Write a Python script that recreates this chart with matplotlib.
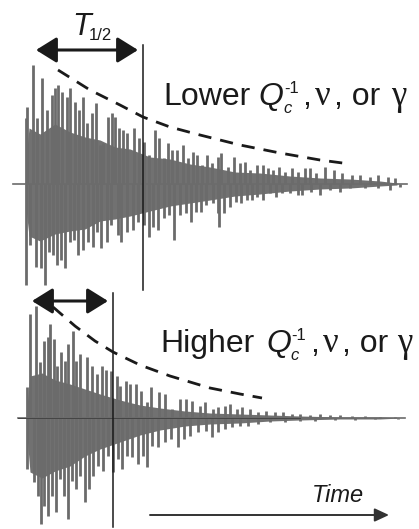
import matplotlib
matplotlib.use("Agg")
import matplotlib.pyplot as plt

plt.rcParams['lines.scale_dashes'] = False

# upper trace ("Lower Qc^-1"), time in px, amplitude in px above/below zero
top_up_t = [13, 24, 26, 27, 33, 37, 42, 47, 52, 55, 58, 62, 67, 70, 75, 79, 83, 87, 92, 96, 100,
            103, 108, 112, 115, 119, 123, 127, 134, 139, 144, 149, 155, 159, 164, 168, 172, 177,
            183, 188, 193, 197, 202, 207, 212, 218, 221, 228, 234, 240, 245, 250, 257, 263, 268,
            273, 279, 285, 292, 298, 305, 310, 316, 325, 334, 342, 352, 360, 370, 378, 388, 395, 407]
top_up_a = [0, 0, 66, 77, 119, 66, 106, 74, 89, 96, 99, 92, 87, 96, 82, 74, 87, 61, 71, 81, 39,
            41, 67, 71, 67, 56, 54, 51, 56, 46, 42, 29, 54, 46, 26, 41, 34, 34,
            39, 26, 32, 29, 19, 29, 21, 27, 31, 17, 27, 21, 22, 14, 19, 19, 16,
            14, 17, 12, 16, 12, 16, 16, 11, 17, 14, 11, 9, 9, 7, 9, 7, 6, 0]
top_dn_t = [26, 30, 36, 41, 45, 49, 53, 57, 61, 65, 70, 74, 78, 83, 88, 93, 97, 101, 107, 111,
            118, 121, 127, 133, 138, 144, 149, 153, 158, 164, 169, 174, 180, 186, 191, 196, 201,
            206, 213, 218, 219, 224, 230, 236, 241, 247, 252, 257, 263, 270, 276, 282, 290, 298,
            302, 311, 320, 330, 340, 350, 365, 378, 390, 400]
top_dn_a = [101, 61, 83, 84, 101, 68, 71, 81, 76, 84, 58, 56, 71, 66, 58, 63, 48, 64, 58, 41,
            51, 58, 48, 46, 38, 41, 53, 43, 46, 34, 31, 56, 31, 29, 38, 28, 28,
            21, 19, 29, 43, 29, 23, 18, 19, 16, 16, 13, 16, 9, 13, 9, 9, 11,
            11, 8, 11, 6, 8, 4, 4, 4, 6, 3]
top_core_t = [26, 29, 40, 55, 70, 85, 100, 115, 130, 150, 170, 190, 210, 235, 260, 290, 320, 350, 380, 397]
top_core_up = [25, 56, 50, 60, 52, 47, 44, 37, 35, 27, 25, 20, 17, 12, 11, 8, 6, 5, 3, 1]
top_core_dn = [25, 52, 57, 50, 47, 45, 37, 35, 32, 27, 22, 19, 16, 12, 10, 7, 5, 4, 2, 1]
top_env_t = [58, 90, 120, 143, 170, 200, 240, 280, 320, 350]
top_env_a = [114, 94, 79, 67, 57, 49, 39, 31, 24, 20]

# lower trace ("Higher Qc^-1")
bot_up_t = [18, 25, 27, 30, 36, 40, 44, 48, 50, 54, 57, 61, 65, 68, 73, 76, 80, 87, 92, 97,
            102, 106, 111, 117, 120, 126, 130, 136, 141, 147, 151, 159, 165, 172, 180, 186, 192,
            200, 205, 213, 218, 225, 230, 237, 242, 250, 258, 266, 275, 283, 292, 300, 310, 320,
            330, 340, 352, 365, 380, 395, 405]
bot_up_a = [0, 0, 31, 104, 112, 56, 77, 81, 94, 79, 52, 66, 57, 74, 87, 57, 64, 61, 52, 44,
            52, 48, 47, 42, 32, 37, 34, 34, 27, 16, 31, 26, 24, 9, 19, 19, 17,
            12, 16, 9, 11, 12, 14, 9, 11, 9, 6, 7, 6, 6, 4, 4, 3, 4,
            3, 3, 2, 2, 1, 1, 0]
bot_dn_t = [27, 34, 38, 41, 44, 48, 52, 56, 60, 64, 68, 72, 76, 80, 85, 89, 93, 98, 103, 108,
            113, 118, 122, 127, 132, 138, 143, 147, 152, 158, 165, 171, 178, 184, 190, 198, 206,
            212, 218, 225, 232, 240, 248, 258, 270, 285, 300, 315, 335, 355, 375, 398]
bot_dn_a = [51, 64, 78, 106, 88, 98, 78, 94, 61, 78, 101, 63, 71, 58, 84, 71, 58, 48, 53, 38,
            54, 41, 51, 38, 39, 46, 38, 49, 28, 29, 24, 21, 29, 21, 18, 14, 13,
            19, 14, 11, 9, 8, 8, 6, 4, 4, 3, 3, 2, 2, 1, 1]
bot_core_t = [27, 30, 42, 55, 70, 85, 100, 120, 140, 160, 185, 210, 240, 270, 300, 340, 380, 400]
bot_core_up = [12, 42, 45, 38, 34, 29, 24, 18, 13, 10, 7, 5, 4, 3, 2, 1, 1, 0]
bot_core_dn = [18, 54, 60, 53, 48, 38, 31, 24, 17, 12, 8, 6, 5, 3, 2, 1, 1, 0]
bot_env_t = [53, 75, 95, 113, 140, 170, 210, 240, 262]
bot_env_a = [111, 92, 77, 66, 53, 42, 30, 24, 20]

wave_col = '#6b6b6b'
ink = '#1a1a1a'

fig = plt.figure(figsize=(4.19, 5.29), dpi=100)
ax = fig.add_axes([0, 0, 1, 1])
ax.set_xlim(0, 419)
ax.set_ylim(529, 0)
ax.axis('off')


def trace(base, up_t, up_a, dn_t, dn_a, core_t, core_up, core_dn):
    ax.plot([up_t[0], up_t[-1]], [base, base], color=wave_col, lw=1.2)
    ax.fill_between(core_t, [base - a for a in core_up], [base + a for a in core_dn],
                    color='#717171', lw=0)
    ax.vlines(up_t, base, [base - a for a in up_a], color=wave_col, lw=2.0)
    ax.vlines(dn_t, base, [base + a for a in dn_a], color=wave_col, lw=2.0)


trace(184, top_up_t, top_up_a, top_dn_t, top_dn_a, top_core_t, top_core_up, top_core_dn)
trace(418, bot_up_t, bot_up_a, bot_dn_t, bot_dn_a, bot_core_t, bot_core_up, bot_core_dn)
ax.plot([18, 300], [418, 418], color='#444444', lw=0.7)

# decay envelopes
ax.plot(top_env_t, [184 - a for a in top_env_a], color=ink, lw=2, ls=(0, (9.5, 6.5)))
ax.plot(bot_env_t, [418 - a for a in bot_env_a], color=ink, lw=2, ls=(0, (9.5, 6.5)))

# T1/2 markers
ax.plot([143, 143], [45, 290], color=ink, lw=1.1)
ax.plot([113, 113], [293, 527], color=ink, lw=1.1)
arw = dict(arrowstyle='<|-|>,head_length=0.45,head_width=0.28', mutation_scale=28,
           lw=2.2, color=ink, shrinkA=0, shrinkB=0)
ax.annotate('', xy=(138, 50), xytext=(36, 50), arrowprops=arw)
ax.annotate('', xy=(108, 301), xytext=(32, 301), arrowprops=arw)
ax.text(72, 35, 'T', fontsize=22, style='italic', family='Liberation Sans', color=ink)
ax.text(89, 40, '1/2', fontsize=12, family='Liberation Sans', color=ink)

# time arrow
ax.annotate('', xy=(389, 515), xytext=(150, 515),
            arrowprops=dict(arrowstyle='-|>,head_length=0.43,head_width=0.2', mutation_scale=20,
                            lw=1.4, color='#333333', shrinkA=0, shrinkB=0))
ax.text(312, 502, 'Time', fontsize=17, style='italic', family='Liberation Sans', color=ink)


def label(x0, base, word, xs):
    sans = 'Liberation Sans'
    serif = 'Liberation Serif'
    ax.text(x0, base, word, fontsize=23, family=sans, color=ink)
    ax.text(xs[0], base, 'Q', fontsize=23, style='italic', family=sans, color=ink)
    ax.text(xs[1], base + 8, 'c', fontsize=12, style='italic', family=sans, color=ink)
    ax.text(xs[1] + 1, base - 12, '-1', fontsize=12, family=sans, color=ink)
    ax.text(xs[2], base, ',', fontsize=23, family=sans, color=ink)
    ax.text(xs[3], base, 'ν', fontsize=25, family=serif, color=ink)
    ax.text(xs[4], base, ', or', fontsize=23, family=sans, color=ink)
    ax.text(xs[5], base, 'γ', fontsize=25, family=serif, color=ink)


label(163, 105, 'Lower', [258, 283, 302, 315, 334, 391])
label(160, 352, 'Higher', [266, 290, 310, 323, 342, 397])

fig.savefig('out.png', dpi=100)
